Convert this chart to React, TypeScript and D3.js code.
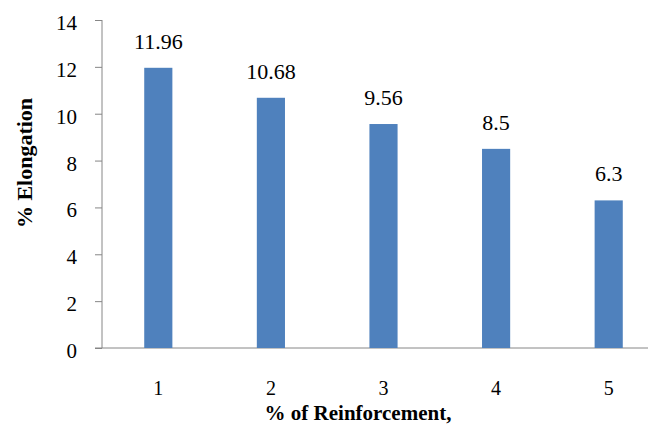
import { useEffect, useRef } from "react";
import * as d3 from "d3";

const categories = ["1", "2", "3", "4", "5"];
const elongation = [11.96, 10.68, 9.56, 8.5, 6.3];
const yTicks = [0, 2, 4, 6, 8, 10, 12, 14];

export default function App() {
	const ref = useRef<SVGSVGElement>(null);

	useEffect(() => {
		const svg = d3.select(ref.current);
		svg.selectAll("*").remove();

		const font = "Liberation Serif, DejaVu Serif, Times New Roman, serif";
		const axisColor = "#868686";

		const x = d3.scaleBand<string>()
			.domain(categories)
			.range([102, 665])
			.paddingInner(0.75)
			.paddingOuter(0.375);

		const y = d3.scaleLinear()
			.domain([0, 14])
			.range([348, 20]);

		// Y axis
		const yAxis = svg.append("g")
			.attr("transform", "translate(102,0)")
			.call(d3.axisLeft(y).tickValues(yTicks).tickSize(7).tickPadding(18).tickFormat(d3.format("d")));
		yAxis.attr("font-family", null).attr("font-size", null);
		yAxis.select(".domain").attr("stroke", axisColor).attr("d", `M0,${y(14)}V${y(0)}`);
		yAxis.selectAll(".tick line").attr("stroke", axisColor);
		yAxis.selectAll(".tick text")
			.style("font-family", font)
			.style("font-size", "21px")
			.attr("dy", "0.45em")
			.attr("fill", "#000");

		// Baseline
		svg.append("line")
			.attr("x1", 95)
			.attr("x2", 648)
			.attr("y1", y(0))
			.attr("y2", y(0))
			.attr("stroke", axisColor)
			.attr("stroke-width", 1);

		// Bars
		svg.append("g")
			.selectAll("rect")
			.data(elongation)
			.join("rect")
			.attr("x", (_, i) => x(categories[i])!)
			.attr("y", d => y(d))
			.attr("width", x.bandwidth())
			.attr("height", d => y(0) - y(d))
			.attr("fill", "#4F81BD");

		// Value labels
		svg.append("g")
			.selectAll("text")
			.data(elongation)
			.join("text")
			.attr("x", (_, i) => x(categories[i])! + x.bandwidth() / 2)
			.attr("y", d => y(d) - 19)
			.attr("text-anchor", "middle")
			.style("font-family", font)
			.style("font-size", "22px")
			.text(d => String(d));

		// X tick labels
		svg.append("g")
			.selectAll("text")
			.data(categories)
			.join("text")
			.attr("x", d => x(d)! + x.bandwidth() / 2)
			.attr("y", 395)
			.attr("text-anchor", "middle")
			.style("font-family", font)
			.style("font-size", "20px")
			.text(d => d);

		// Axis titles
		svg.append("text")
			.attr("x", 358)
			.attr("y", 420)
			.attr("text-anchor", "middle")
			.style("font-family", font)
			.style("font-weight", "bold")
			.style("font-size", "21px")
			.text("% of Reinforcement,");

		svg.append("text")
			.attr("transform", "translate(32,163) rotate(-90)")
			.attr("text-anchor", "middle")
			.style("font-family", font)
			.style("font-weight", "bold")
			.style("font-size", "22px")
			.text("% Elongation");
	}, []);

	return (
		<svg
			ref={ref}
			width={652}
			height={425}
			style={{ position: "absolute", left: 0, top: 0, background: "#fff" }}
		/>
	);
}
